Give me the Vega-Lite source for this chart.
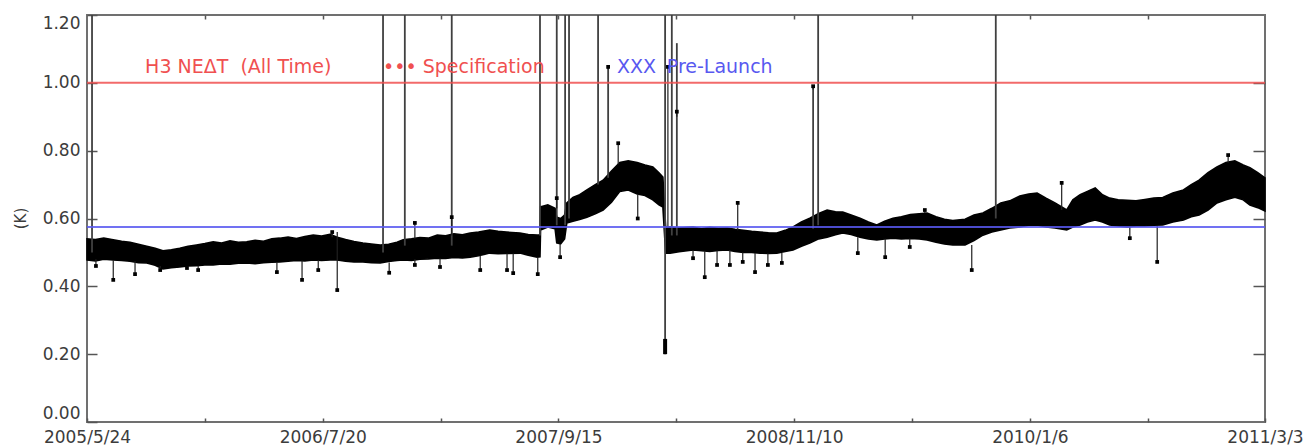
{
  "$schema": "https://vega.github.io/schema/vega-lite/v6.json",
  "width": 1178,
  "height": 407,
  "autosize": {"type": "none"},
  "padding": {"left": 87, "top": 15, "right": 48, "bottom": 26},
  "background": "white",
  "config": {
    "view": {"stroke": "#707070", "strokeWidth": 2},
    "axis": {"grid": false, "domain": false, "tickColor": "#555555", "tickWidth": 1.5, "labelColor": "#3c3c3c", "labelFont": "DejaVu Sans", "titleFont": "DejaVu Sans"}
  },
  "datasets": {
    "band": [
      {"date": "2005-05-24", "lo": 0.478, "hi": 0.540},
      {"date": "2005-06-08", "lo": 0.475, "hi": 0.538},
      {"date": "2005-06-23", "lo": 0.480, "hi": 0.542},
      {"date": "2005-07-10", "lo": 0.478, "hi": 0.537},
      {"date": "2005-07-25", "lo": 0.476, "hi": 0.533},
      {"date": "2005-08-09", "lo": 0.474, "hi": 0.530},
      {"date": "2005-08-24", "lo": 0.470, "hi": 0.524},
      {"date": "2005-09-08", "lo": 0.469, "hi": 0.518},
      {"date": "2005-09-23", "lo": 0.462, "hi": 0.512},
      {"date": "2005-10-07", "lo": 0.451, "hi": 0.505},
      {"date": "2005-10-22", "lo": 0.455, "hi": 0.508},
      {"date": "2005-11-06", "lo": 0.457, "hi": 0.512},
      {"date": "2005-11-21", "lo": 0.460, "hi": 0.518},
      {"date": "2005-12-06", "lo": 0.461, "hi": 0.522},
      {"date": "2005-12-21", "lo": 0.463, "hi": 0.526},
      {"date": "2006-01-05", "lo": 0.463, "hi": 0.531},
      {"date": "2006-01-20", "lo": 0.466, "hi": 0.528},
      {"date": "2006-02-04", "lo": 0.465, "hi": 0.534},
      {"date": "2006-02-19", "lo": 0.468, "hi": 0.530},
      {"date": "2006-03-06", "lo": 0.469, "hi": 0.531},
      {"date": "2006-03-21", "lo": 0.467, "hi": 0.536},
      {"date": "2006-04-05", "lo": 0.470, "hi": 0.533},
      {"date": "2006-04-20", "lo": 0.471, "hi": 0.540},
      {"date": "2006-05-04", "lo": 0.472, "hi": 0.542},
      {"date": "2006-05-19", "lo": 0.474, "hi": 0.545},
      {"date": "2006-06-03", "lo": 0.476, "hi": 0.541},
      {"date": "2006-06-18", "lo": 0.475, "hi": 0.547},
      {"date": "2006-07-03", "lo": 0.478, "hi": 0.551},
      {"date": "2006-07-18", "lo": 0.476, "hi": 0.548},
      {"date": "2006-08-02", "lo": 0.478, "hi": 0.553},
      {"date": "2006-08-15", "lo": 0.478, "hi": 0.545},
      {"date": "2006-08-30", "lo": 0.474, "hi": 0.538},
      {"date": "2006-09-14", "lo": 0.472, "hi": 0.532},
      {"date": "2006-09-30", "lo": 0.472, "hi": 0.528},
      {"date": "2006-10-15", "lo": 0.470, "hi": 0.525},
      {"date": "2006-10-31", "lo": 0.469, "hi": 0.522},
      {"date": "2006-11-15", "lo": 0.473, "hi": 0.524},
      {"date": "2006-11-30", "lo": 0.476, "hi": 0.530},
      {"date": "2006-12-11", "lo": 0.478, "hi": 0.537},
      {"date": "2006-12-26", "lo": 0.476, "hi": 0.540},
      {"date": "2007-01-10", "lo": 0.480, "hi": 0.544},
      {"date": "2007-01-25", "lo": 0.481, "hi": 0.542},
      {"date": "2007-02-10", "lo": 0.483, "hi": 0.551},
      {"date": "2007-02-25", "lo": 0.482, "hi": 0.549},
      {"date": "2007-03-12", "lo": 0.485, "hi": 0.555},
      {"date": "2007-03-27", "lo": 0.484, "hi": 0.552},
      {"date": "2007-04-10", "lo": 0.486, "hi": 0.557},
      {"date": "2007-04-25", "lo": 0.490, "hi": 0.560},
      {"date": "2007-05-15", "lo": 0.498, "hi": 0.566},
      {"date": "2007-05-30", "lo": 0.496, "hi": 0.562},
      {"date": "2007-06-14", "lo": 0.497, "hi": 0.560},
      {"date": "2007-07-08", "lo": 0.498, "hi": 0.557},
      {"date": "2007-07-23", "lo": 0.492, "hi": 0.553},
      {"date": "2007-08-08", "lo": 0.486, "hi": 0.551},
      {"date": "2007-08-13", "lo": 0.487, "hi": 0.552},
      {"date": "2007-08-14", "lo": 0.566, "hi": 0.634},
      {"date": "2007-08-27", "lo": 0.575, "hi": 0.640},
      {"date": "2007-09-09", "lo": 0.570, "hi": 0.630},
      {"date": "2007-09-12", "lo": 0.528, "hi": 0.604},
      {"date": "2007-09-19", "lo": 0.525, "hi": 0.600},
      {"date": "2007-09-26", "lo": 0.540, "hi": 0.610},
      {"date": "2007-09-30", "lo": 0.587, "hi": 0.646},
      {"date": "2007-10-11", "lo": 0.592, "hi": 0.662},
      {"date": "2007-10-23", "lo": 0.597, "hi": 0.670},
      {"date": "2007-11-05", "lo": 0.604, "hi": 0.684},
      {"date": "2007-11-20", "lo": 0.614, "hi": 0.700},
      {"date": "2007-12-04", "lo": 0.625, "hi": 0.713},
      {"date": "2007-12-19", "lo": 0.648, "hi": 0.740},
      {"date": "2008-01-03", "lo": 0.680, "hi": 0.765},
      {"date": "2008-01-18", "lo": 0.684, "hi": 0.770},
      {"date": "2008-02-03", "lo": 0.672, "hi": 0.765},
      {"date": "2008-02-17", "lo": 0.668, "hi": 0.758},
      {"date": "2008-03-02", "lo": 0.655, "hi": 0.752},
      {"date": "2008-03-13", "lo": 0.640, "hi": 0.735},
      {"date": "2008-03-20", "lo": 0.634, "hi": 0.722},
      {"date": "2008-03-25", "lo": 0.498, "hi": 0.575},
      {"date": "2008-04-02", "lo": 0.498, "hi": 0.575},
      {"date": "2008-04-18", "lo": 0.502, "hi": 0.572},
      {"date": "2008-05-13", "lo": 0.507, "hi": 0.575},
      {"date": "2008-05-28", "lo": 0.505, "hi": 0.570},
      {"date": "2008-06-12", "lo": 0.503, "hi": 0.574},
      {"date": "2008-06-27", "lo": 0.506, "hi": 0.571},
      {"date": "2008-07-13", "lo": 0.507, "hi": 0.572},
      {"date": "2008-07-27", "lo": 0.503, "hi": 0.568},
      {"date": "2008-08-11", "lo": 0.500, "hi": 0.565},
      {"date": "2008-08-26", "lo": 0.500, "hi": 0.562},
      {"date": "2008-09-10", "lo": 0.498, "hi": 0.560},
      {"date": "2008-09-25", "lo": 0.497, "hi": 0.558},
      {"date": "2008-10-10", "lo": 0.498, "hi": 0.557},
      {"date": "2008-10-25", "lo": 0.503, "hi": 0.565},
      {"date": "2008-11-08", "lo": 0.507, "hi": 0.575},
      {"date": "2008-11-23", "lo": 0.518, "hi": 0.590},
      {"date": "2008-12-08", "lo": 0.528, "hi": 0.601},
      {"date": "2008-12-24", "lo": 0.540, "hi": 0.615},
      {"date": "2009-01-08", "lo": 0.545, "hi": 0.625},
      {"date": "2009-01-23", "lo": 0.552, "hi": 0.620},
      {"date": "2009-02-05", "lo": 0.557, "hi": 0.619},
      {"date": "2009-02-20", "lo": 0.553, "hi": 0.610},
      {"date": "2009-03-08", "lo": 0.545, "hi": 0.601},
      {"date": "2009-03-23", "lo": 0.540, "hi": 0.590},
      {"date": "2009-04-07", "lo": 0.537, "hi": 0.581},
      {"date": "2009-04-21", "lo": 0.540, "hi": 0.592},
      {"date": "2009-05-06", "lo": 0.542, "hi": 0.601},
      {"date": "2009-05-21", "lo": 0.540, "hi": 0.605},
      {"date": "2009-06-06", "lo": 0.541, "hi": 0.612},
      {"date": "2009-06-22", "lo": 0.540, "hi": 0.614},
      {"date": "2009-07-06", "lo": 0.537, "hi": 0.616},
      {"date": "2009-07-22", "lo": 0.530, "hi": 0.605},
      {"date": "2009-08-06", "lo": 0.525, "hi": 0.598},
      {"date": "2009-08-21", "lo": 0.522, "hi": 0.594},
      {"date": "2009-09-12", "lo": 0.522, "hi": 0.598},
      {"date": "2009-09-28", "lo": 0.535, "hi": 0.610},
      {"date": "2009-10-14", "lo": 0.551, "hi": 0.616},
      {"date": "2009-10-30", "lo": 0.560, "hi": 0.630},
      {"date": "2009-11-15", "lo": 0.566, "hi": 0.646},
      {"date": "2009-12-01", "lo": 0.572, "hi": 0.652},
      {"date": "2009-12-19", "lo": 0.575, "hi": 0.666},
      {"date": "2010-01-04", "lo": 0.580, "hi": 0.672},
      {"date": "2010-01-19", "lo": 0.581, "hi": 0.675},
      {"date": "2010-02-04", "lo": 0.575, "hi": 0.660},
      {"date": "2010-02-20", "lo": 0.572, "hi": 0.646},
      {"date": "2010-03-13", "lo": 0.566, "hi": 0.625},
      {"date": "2010-03-24", "lo": 0.575, "hi": 0.655},
      {"date": "2010-04-06", "lo": 0.581, "hi": 0.670},
      {"date": "2010-04-19", "lo": 0.590, "hi": 0.680},
      {"date": "2010-05-03", "lo": 0.596, "hi": 0.690},
      {"date": "2010-05-16", "lo": 0.590, "hi": 0.670},
      {"date": "2010-05-29", "lo": 0.581, "hi": 0.660},
      {"date": "2010-06-13", "lo": 0.578, "hi": 0.655},
      {"date": "2010-06-29", "lo": 0.575, "hi": 0.654},
      {"date": "2010-07-15", "lo": 0.578, "hi": 0.652},
      {"date": "2010-07-31", "lo": 0.578, "hi": 0.656},
      {"date": "2010-08-16", "lo": 0.580, "hi": 0.660},
      {"date": "2010-09-01", "lo": 0.581, "hi": 0.662},
      {"date": "2010-09-19", "lo": 0.590, "hi": 0.675},
      {"date": "2010-10-08", "lo": 0.596, "hi": 0.684},
      {"date": "2010-10-22", "lo": 0.605, "hi": 0.700},
      {"date": "2010-11-05", "lo": 0.610, "hi": 0.713},
      {"date": "2010-11-21", "lo": 0.625, "hi": 0.735},
      {"date": "2010-12-07", "lo": 0.646, "hi": 0.752},
      {"date": "2010-12-23", "lo": 0.655, "hi": 0.765},
      {"date": "2011-01-08", "lo": 0.663, "hi": 0.770},
      {"date": "2011-01-23", "lo": 0.655, "hi": 0.758},
      {"date": "2011-02-04", "lo": 0.640, "hi": 0.750},
      {"date": "2011-02-18", "lo": 0.632, "hi": 0.735},
      {"date": "2011-03-03", "lo": 0.622, "hi": 0.720}
    ],
    "spikes": [
      {"date": "2005-06-02", "base": 0.50, "top": 1.2},
      {"date": "2006-11-05", "base": 0.50, "top": 1.2},
      {"date": "2006-12-14", "base": 0.52, "top": 1.2},
      {"date": "2007-03-08", "base": 0.52, "top": 1.2},
      {"date": "2007-08-13", "base": 0.55, "top": 1.2},
      {"date": "2007-09-12", "base": 0.58, "top": 1.2},
      {"date": "2007-09-27", "base": 0.58, "top": 1.2},
      {"date": "2007-10-04", "base": 0.60, "top": 1.2},
      {"date": "2007-11-25", "base": 0.70, "top": 1.2},
      {"date": "2007-12-13", "base": 0.72, "top": 1.047},
      {"date": "2008-03-24", "base": 0.20, "top": 1.2},
      {"date": "2008-04-05", "base": 0.55, "top": 1.2},
      {"date": "2008-04-14", "base": 0.55, "top": 1.117},
      {"date": "2008-12-14", "base": 0.57, "top": 0.99},
      {"date": "2008-12-23", "base": 0.58, "top": 1.2},
      {"date": "2009-11-06", "base": 0.60, "top": 1.2}
    ],
    "outliers": [
      {"date": "2005-06-09", "base": 0.480, "value": 0.460},
      {"date": "2005-07-10", "base": 0.478, "value": 0.419},
      {"date": "2005-08-18", "base": 0.474, "value": 0.436},
      {"date": "2005-10-02", "base": 0.460, "value": 0.448},
      {"date": "2005-11-19", "base": 0.460, "value": 0.454},
      {"date": "2005-12-09", "base": 0.461, "value": 0.448},
      {"date": "2006-04-29", "base": 0.471, "value": 0.442},
      {"date": "2006-06-13", "base": 0.476, "value": 0.419},
      {"date": "2006-07-12", "base": 0.477, "value": 0.448},
      {"date": "2006-08-06", "base": 0.545, "value": 0.560},
      {"date": "2006-08-15", "base": 0.560, "value": 0.389},
      {"date": "2006-11-16", "base": 0.470, "value": 0.440},
      {"date": "2007-01-01", "base": 0.540, "value": 0.587},
      {"date": "2007-01-01", "base": 0.480, "value": 0.463},
      {"date": "2007-02-15", "base": 0.482, "value": 0.457},
      {"date": "2007-03-08", "base": 0.550, "value": 0.604},
      {"date": "2007-04-28", "base": 0.490, "value": 0.448},
      {"date": "2007-06-15", "base": 0.497, "value": 0.448},
      {"date": "2007-06-26", "base": 0.497, "value": 0.439},
      {"date": "2007-08-09", "base": 0.486, "value": 0.436},
      {"date": "2007-09-12", "base": 0.630, "value": 0.660},
      {"date": "2007-09-18", "base": 0.525, "value": 0.486},
      {"date": "2007-12-13", "base": 1.040, "value": 1.047},
      {"date": "2007-12-31", "base": 0.760, "value": 0.822},
      {"date": "2008-02-04", "base": 0.672, "value": 0.600},
      {"date": "2008-03-29", "base": 0.575, "value": 1.047},
      {"date": "2008-04-14", "base": 0.900, "value": 0.915},
      {"date": "2008-05-13", "base": 0.507, "value": 0.483},
      {"date": "2008-06-03", "base": 0.505, "value": 0.427},
      {"date": "2008-06-25", "base": 0.506, "value": 0.463},
      {"date": "2008-07-18", "base": 0.507, "value": 0.463},
      {"date": "2008-08-01", "base": 0.565, "value": 0.646},
      {"date": "2008-08-10", "base": 0.500, "value": 0.472},
      {"date": "2008-09-01", "base": 0.498, "value": 0.442},
      {"date": "2008-09-24", "base": 0.497, "value": 0.463},
      {"date": "2008-10-19", "base": 0.498, "value": 0.469},
      {"date": "2008-12-14", "base": 0.980, "value": 0.990},
      {"date": "2009-03-04", "base": 0.545, "value": 0.498},
      {"date": "2009-04-22", "base": 0.540, "value": 0.486},
      {"date": "2009-06-05", "base": 0.541, "value": 0.516},
      {"date": "2009-07-02", "base": 0.616, "value": 0.625},
      {"date": "2009-09-24", "base": 0.522, "value": 0.448},
      {"date": "2010-03-04", "base": 0.625, "value": 0.705},
      {"date": "2010-07-04", "base": 0.575, "value": 0.542},
      {"date": "2010-08-22", "base": 0.578, "value": 0.472},
      {"date": "2010-12-27", "base": 0.765, "value": 0.787}
    ],
    "blob": [
      {"date": "2008-03-24", "lo": 0.200, "hi": 0.245}
    ],
    "refs": [
      {"series": "Specification", "value": 1.0},
      {"series": "Pre-Launch", "value": 0.575}
    ],
    "labels": [
      {"date": "2005-09-05", "value": 1.047, "series": "Specification", "text": "H3 NEΔT\u00a0\u00a0(All Time)"},
      {"date": "2006-11-05", "value": 1.047, "series": "Specification", "text": "•••"},
      {"date": "2007-01-15", "value": 1.047, "series": "Specification", "text": "Specification"},
      {"date": "2007-12-29", "value": 1.047, "series": "Pre-Launch", "text": "XXX"},
      {"date": "2008-03-27", "value": 1.047, "series": "Pre-Launch", "text": "Pre-Launch"}
    ]
  },
  "resolve": {"axis": {"x": "independent", "y": "independent"}},
  "layer": [
    {
      "data": {"name": "band"},
      "mark": {"type": "area", "color": "black", "stroke": "black", "strokeWidth": 1.6, "interpolate": "linear"},
      "encoding": {
        "x": {
          "field": "date", "type": "temporal",
          "scale": {"type": "utc", "domain": [{"year": 2005, "month": 5, "date": 24, "utc": true}, {"year": 2011, "month": 3, "date": 3, "utc": true}]},
          "axis": {
            "orient": "bottom", "title": null,
            "values": [
              {"year": 2005, "month": 5, "date": 24, "utc": true},
              {"year": 2005, "month": 12, "date": 21, "utc": true},
              {"year": 2006, "month": 7, "date": 20, "utc": true},
              {"year": 2007, "month": 2, "date": 16, "utc": true},
              {"year": 2007, "month": 9, "date": 15, "utc": true},
              {"year": 2008, "month": 4, "date": 13, "utc": true},
              {"year": 2008, "month": 11, "date": 10, "utc": true},
              {"year": 2009, "month": 6, "date": 9, "utc": true},
              {"year": 2010, "month": 1, "date": 6, "utc": true},
              {"year": 2010, "month": 8, "date": 5, "utc": true},
              {"year": 2011, "month": 3, "date": 3, "utc": true}
            ],
            "labelExpr": "indexof(['2005/5/24','2006/7/20','2007/9/15','2008/11/10','2010/1/6','2011/3/3'], utcFormat(datum.value, '%Y/%-m/%-d')) >= 0 ? utcFormat(datum.value, '%Y/%-m/%-d') : ''",
            "tickSize": -4, "labelPadding": 11, "labelFontSize": 17,
            "labelFlush": false, "labelOverlap": false
          }
        },
        "y": {
          "field": "lo", "type": "quantitative",
          "scale": {"domain": [0, 1.2], "nice": false, "zero": false},
          "axis": {
            "orient": "left", "title": "(K)",
            "values": [0, 0.2, 0.4, 0.6, 0.8, 1.0, 1.2],
            "format": ".2f", "tickSize": -10, "labelPadding": 17, "labelFontSize": 17,
            "labelFlush": true, "titleFontSize": 15, "titleFontWeight": "normal", "titleColor": "#3c3c3c",
            "titleX": -59, "titleY": 203
          }
        },
        "y2": {"field": "hi"}
      }
    },
    {
      "data": {"name": "spikes"},
      "mark": {"type": "rule", "color": "#404040", "strokeWidth": 1.8},
      "encoding": {
        "x": {"field": "date", "type": "temporal", "scale": {"type": "utc"}, "axis": null},
        "y": {"field": "base", "type": "quantitative", "axis": null},
        "y2": {"field": "top"}
      }
    },
    {
      "data": {"name": "outliers"},
      "mark": {"type": "rule", "color": "#202020", "strokeWidth": 1.2},
      "encoding": {
        "x": {"field": "date", "type": "temporal", "scale": {"type": "utc"}, "axis": null},
        "y": {"field": "base", "type": "quantitative", "axis": null},
        "y2": {"field": "value"}
      }
    },
    {
      "data": {"name": "outliers"},
      "mark": {"type": "point", "shape": "square", "filled": true, "color": "black", "size": 14, "opacity": 1},
      "encoding": {
        "x": {"field": "date", "type": "temporal", "scale": {"type": "utc"}, "axis": null},
        "y": {"field": "value", "type": "quantitative", "axis": null}
      }
    },
    {
      "data": {"name": "blob"},
      "mark": {"type": "rule", "color": "black", "strokeWidth": 4},
      "encoding": {
        "x": {"field": "date", "type": "temporal", "scale": {"type": "utc"}, "axis": null},
        "y": {"field": "lo", "type": "quantitative", "axis": null},
        "y2": {"field": "hi"}
      }
    },
    {
      "data": {"name": "refs"},
      "mark": {"type": "rule", "strokeWidth": 2, "opacity": 0.85},
      "encoding": {
        "y": {"field": "value", "type": "quantitative", "axis": null},
        "color": {"field": "series", "type": "nominal", "scale": {"domain": ["Specification", "Pre-Launch"], "range": ["#f05050", "#5858f0"]}, "legend": null}
      }
    },
    {
      "data": {"name": "labels"},
      "mark": {"type": "text", "align": "left", "baseline": "middle", "font": "DejaVu Sans", "fontSize": 19},
      "encoding": {
        "x": {"field": "date", "type": "temporal", "scale": {"type": "utc"}, "axis": null},
        "y": {"field": "value", "type": "quantitative", "axis": null},
        "text": {"field": "text"},
        "color": {"field": "series", "type": "nominal", "scale": {"domain": ["Specification", "Pre-Launch"], "range": ["#e85a5a", "#5a5ae6"]}, "legend": null}
      }
    },
    {
      "data": {"name": "band"},
      "mark": {"type": "point", "opacity": 0},
      "encoding": {
        "x": {
          "field": "date", "type": "temporal", "scale": {"type": "utc"},
          "axis": {
            "orient": "top", "title": null, "labels": false, "tickSize": -4,
            "values": [
              {"year": 2005, "month": 12, "date": 21, "utc": true},
              {"year": 2006, "month": 7, "date": 20, "utc": true},
              {"year": 2007, "month": 2, "date": 16, "utc": true},
              {"year": 2007, "month": 9, "date": 15, "utc": true},
              {"year": 2008, "month": 4, "date": 13, "utc": true},
              {"year": 2008, "month": 11, "date": 10, "utc": true},
              {"year": 2009, "month": 6, "date": 9, "utc": true},
              {"year": 2010, "month": 1, "date": 6, "utc": true},
              {"year": 2010, "month": 8, "date": 5, "utc": true}
            ]
          }
        },
        "y": {
          "field": "lo", "type": "quantitative",
          "axis": {"orient": "right", "title": null, "labels": false, "tickSize": -12, "values": [0.2, 0.4, 0.6, 0.8, 1.0]}
        }
      }
    }
  ]
}
